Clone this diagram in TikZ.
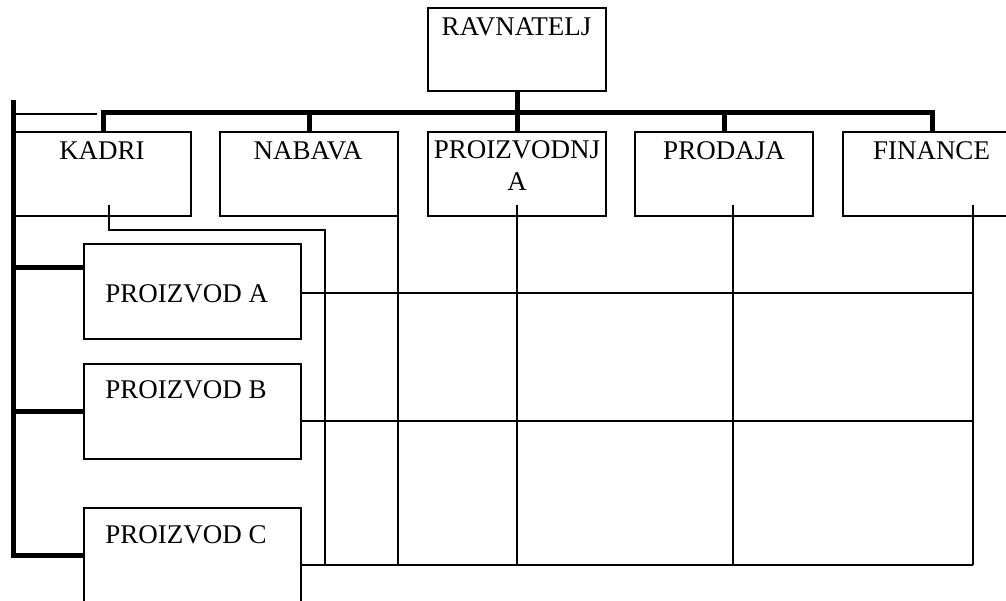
\documentclass[tikz,border=0pt]{standalone}
\usepackage{fontspec}
\setmainfont{Liberation Serif}
\begin{document}
\begin{tikzpicture}[x=0.5pt,y=-0.5pt,
  box/.style={draw,line width=0.75pt,inner sep=0pt,minimum width=89pt,minimum height=42pt},
  pbox/.style={draw,line width=0.75pt,inner sep=0pt,minimum width=108.5pt,minimum height=47.5pt},
  lbl/.style={inner sep=0pt,font=\fontsize{13.5pt}{16pt}\selectfont},
  thickln/.style={line width=2.5pt},
  thinln/.style={line width=0.75pt}]
\clip (0,0) rectangle (1006,600);
\fill[white] (0,0) rectangle (1006,600);
% boxes
\node[box,minimum height=41.5pt] (rav) at (517,49.5) {};
\node[box,minimum width=88pt] (kad) at (103,174) {};
\node[box] (nab) at (309,174) {};
\node[box] (pro) at (517,174) {};
\node[box] (prd) at (724,174) {};
\node[box,minimum width=100pt] (fin) at (943,174) {};
\node[pbox] (pa) at (192.5,291.5) {};
\node[pbox] (pb) at (192.5,411.5) {};
\node[pbox] (pc) at (192.5,555.5) {};
% labels
\node[lbl,anchor=base] (trav) at (516.5,35) {RAVNATELJ};
\node[lbl,anchor=base] (tkad) at (102,159) {KADRI};
\node[lbl,anchor=base] (tnab) at (308,159) {NABAVA};
\node[lbl,anchor=north,align=center] (tpro) at (517,140) {PROIZVODNJ\\A};
\node[lbl,anchor=base] (tprd) at (724,159) {PRODAJA};
\node[lbl,anchor=base] (tfin) at (931.5,159) {FINANCE};
\node[lbl,anchor=base west] (tpa) at (105,302) {PROIZVOD A};
\node[lbl,anchor=base west] (tpb) at (105,398) {PROIZVOD B};
\node[lbl,anchor=base west] (tpc) at (105,543) {PROIZVOD C};
% coordinates
\coordinate (bus) at (517,112);
\coordinate (busR) at (932,112);
\coordinate (finTop) at (932,132);
\coordinate (barT) at (13,100);
\coordinate (ta) at (13,267);
\coordinate (tb) at (13,411.5);
\coordinate (tc) at (13,555);
\coordinate (tl1) at (15,114);
\coordinate (tl2) at (97,114);
\coordinate (k1) at (109,205);
\coordinate (k2) at (109,230);
\coordinate (k3) at (325,230);
\coordinate (k4) at (325,565);
\coordinate (n1) at (398,205);
\coordinate (n2) at (398,565);
\coordinate (p1) at (517,205);
\coordinate (p2) at (517,565);
\coordinate (d1) at (733,205);
\coordinate (d2) at (733,565);
\coordinate (f1) at (973,205);
\coordinate (f2) at (973,565);
\coordinate (ra) at (301,293);
\coordinate (raE) at (973,293);
\coordinate (rb) at (301,421);
\coordinate (rbE) at (973,421);
\coordinate (rc) at (301,565);
% thick connectors
\draw[thickln] (rav.south) -- (bus);
\draw[thickln] (kad.north) -- (kad.north |- bus) -- (busR) -- (finTop);
\draw[thickln] (nab.north |- bus) -- (nab.north);
\draw[thickln] (pro.north |- bus) -- (pro.north);
\draw[thickln] (prd.north |- bus) -- (prd.north);
\draw[thickln] (barT) |- (tc -| pc.west);
\draw[thickln] (ta) -- (ta -| pa.west);
\draw[thickln] (tb) -- (pb.west);
% thin connectors
\draw[thinln] (tl1) -- (tl2);
\draw[thinln] (k1) -- (k2) -- (k3) -- (k4);
\draw[thinln] (n1) -- (n2);
\draw[thinln] (p1) -- (p2);
\draw[thinln] (d1) -- (d2);
\draw[thinln] (f1) -- (f2);
\draw[thinln] (ra) -- (raE);
\draw[thinln] (rb) -- (rbE);
\draw[thinln] (rc) -- (f2);
\end{tikzpicture}
\end{document}
